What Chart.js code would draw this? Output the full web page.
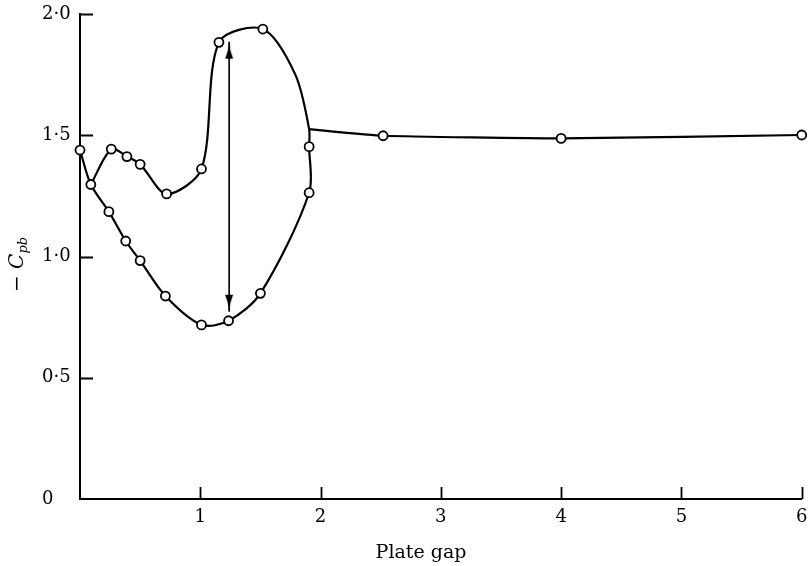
<!DOCTYPE html>
<html>
<head>
<meta charset="utf-8">
<script src="https://cdn.jsdelivr.net/npm/chart.js@4.4.1/dist/chart.umd.min.js"></script>
<style>
  html, body { margin: 0; padding: 0; background: #fff; }
  #wrap { width: 808px; height: 566px; }
</style>
</head>
<body>
<div id="wrap"><canvas id="chart" width="808" height="566"></canvas></div>
<script>
// -Cpb against plate gap, traced once round the hysteresis loop
// (lower branch out to 1.9, up the right side, back along the upper branch)
// unmarked entries are points read off the drawn curve, not measurements
const loopGap = [0, 0.09, 0.24, 0.38, 0.50, 0.71, 1.01, 1.235, 1.50, 1.905, 1.905, 1.905, 1.79, 1.52, 1.155, 1.01, 0.72, 0.50, 0.39, 0.26, 0.09];
const loopCp  = [1.439, 1.297, 1.185, 1.064, 0.983, 0.837, 0.718, 0.735, 0.848, 1.263, 1.453, 1.525, 1.75, 1.938, 1.883, 1.361, 1.258, 1.380, 1.412, 1.443, 1.297];
const loopMarked = [1, 1, 1, 1, 1, 1, 1, 1, 1, 1, 1, 0, 0, 1, 1, 1, 1, 1, 1, 1, 0];

// single branch for the wide gaps
const tailGap = [1.905, 2.52, 4.0, 6.0];
const tailCp  = [1.525, 1.498, 1.487, 1.501];
const tailMarked = [0, 1, 1, 1];

// double arrow marking the jump
const arrowGap = [1.24, 1.24];
const arrowCp  = [1.886, 0.772];

const xTicks = [1, 2, 3, 4, 5, 6];
const yTicks = [0, 0.5, 1, 1.5, 2];

const serif = '"DejaVu Serif", "Liberation Serif", serif';
const toXY = (xs, ys) => xs.map((x, i) => ({ x: x, y: ys[i] }));

function makeArrowHead() {
  // tip sits at the canvas centre so the point lands on the tip
  const c = document.createElement('canvas');
  c.width = 10; c.height = 36;
  const g = c.getContext('2d');
  g.fillStyle = '#000';
  g.beginPath();
  g.moveTo(5, 18);
  g.quadraticCurveTo(5.6, 27, 9, 35);
  g.lineTo(1, 35);
  g.quadraticCurveTo(4.4, 27, 5, 18);
  g.fill();
  return c;
}
const arrowHead = makeArrowHead();

// tick marks point into the plot
const inwardTicks = {
  id: 'inwardTicks',
  afterDraw(chart) {
    const { ctx, chartArea, scales } = chart;
    ctx.save();
    ctx.strokeStyle = '#000';
    ctx.lineWidth = 1.8;
    ctx.beginPath();
    yTicks.filter(v => v > 0).forEach(v => {
      const y = Math.round(scales.y.getPixelForValue(v)) + 0.5;
      ctx.moveTo(chartArea.left, y);
      ctx.lineTo(chartArea.left + 13, y);
    });
    xTicks.forEach(v => {
      const x = Math.round(scales.x.getPixelForValue(v)) + 0.5;
      ctx.moveTo(x, chartArea.bottom);
      ctx.lineTo(x, chartArea.bottom - 12);
    });
    ctx.stroke();
    ctx.restore();
  }
};

const axisTitles = {
  id: 'axisTitles',
  afterDraw(chart) {
    const { ctx, chartArea } = chart;
    ctx.save();
    ctx.fillStyle = '#000';
    ctx.textBaseline = 'alphabetic';

    ctx.font = '19px ' + serif;
    ctx.textAlign = 'center';
    ctx.fillText('Plate gap', 421, 558);

    // −C with subscript pb, rotated
    const minus = '\u2212 ';
    ctx.translate(chartArea.left - 57, (chartArea.top + chartArea.bottom) / 2 + 8);
    ctx.rotate(-Math.PI / 2);
    ctx.textAlign = 'left';
    ctx.font = '20px ' + serif;
    const wMinus = ctx.measureText(minus).width;
    ctx.font = 'italic 20px ' + serif;
    const wC = ctx.measureText('C').width;
    ctx.font = 'italic 13px ' + serif;
    const wSub = ctx.measureText('pb').width;
    let x = -(wMinus + wC + wSub) / 2;
    ctx.font = '20px ' + serif;
    ctx.fillText(minus, x, 0);
    x += wMinus;
    ctx.font = 'italic 20px ' + serif;
    ctx.fillText('C', x, 0);
    x += wC;
    ctx.font = 'italic 13px ' + serif;
    ctx.fillText('pb', x, 4);
    ctx.restore();
  }
};

new Chart(document.getElementById('chart'), {
  type: 'scatter',
  data: {
    datasets: [
      {
        data: toXY(loopGap, loopCp),
        showLine: true,
        tension: 0.3,
        borderColor: '#000',
        borderWidth: 2.2,
        pointRadius: loopMarked.map(m => m ? 4.5 : 0),
        pointBackgroundColor: '#fff',
        pointBorderColor: '#000',
        pointBorderWidth: 1.8,
        clip: false
      },
      {
        data: toXY(tailGap, tailCp),
        showLine: true,
        tension: 0.15,
        borderColor: '#000',
        borderWidth: 2.2,
        pointRadius: tailMarked.map(m => m ? 4.5 : 0),
        pointBackgroundColor: '#fff',
        pointBorderColor: '#000',
        pointBorderWidth: 1.8,
        clip: false
      },
      {
        data: toXY(arrowGap, arrowCp),
        showLine: true,
        tension: 0,
        borderColor: '#000',
        borderWidth: 1.6,
        pointStyle: arrowHead,
        pointRadius: 4,
        pointRotation: [0, 180],
        clip: false
      }
    ]
  },
  options: {
    responsive: false,
    animation: false,
    events: [],
    devicePixelRatio: 1,
    layout: { padding: { left: 42, top: 14, right: 3, bottom: 0 } },
    plugins: { legend: { display: false }, tooltip: { enabled: false } },
    scales: {
      x: {
        type: 'linear',
        min: 0,
        max: 6,
        afterBuildTicks: s => { s.ticks = xTicks.map(v => ({ value: v })); },
        ticks: {
          color: '#000',
          font: { family: serif, size: 18 },
          padding: 8,
          maxRotation: 0,
          callback: v => String(v)
        },
        grid: { display: false, drawTicks: false },
        border: { display: true, color: '#000', width: 2 },
        afterFit: s => { s.height = 67; s.paddingLeft = 0; s.paddingRight = 0; }
      },
      y: {
        type: 'linear',
        min: 0,
        max: 2,
        afterBuildTicks: s => { s.ticks = yTicks.map(v => ({ value: v })); },
        ticks: {
          color: '#000',
          font: { family: serif, size: 18 },
          padding: 0,
          crossAlign: 'far',
          callback: v => v === 0 ? '0' : v.toFixed(1).replace('.', '\u00b7')
        },
        grid: { display: false, drawTicks: false },
        border: { display: true, color: '#000', width: 2 },
        afterFit: s => { s.width = 38; s.paddingTop = 0; s.paddingBottom = 0; }
      }
    }
  },
  plugins: [inwardTicks, axisTitles]
});
</script>
</body>
</html>
